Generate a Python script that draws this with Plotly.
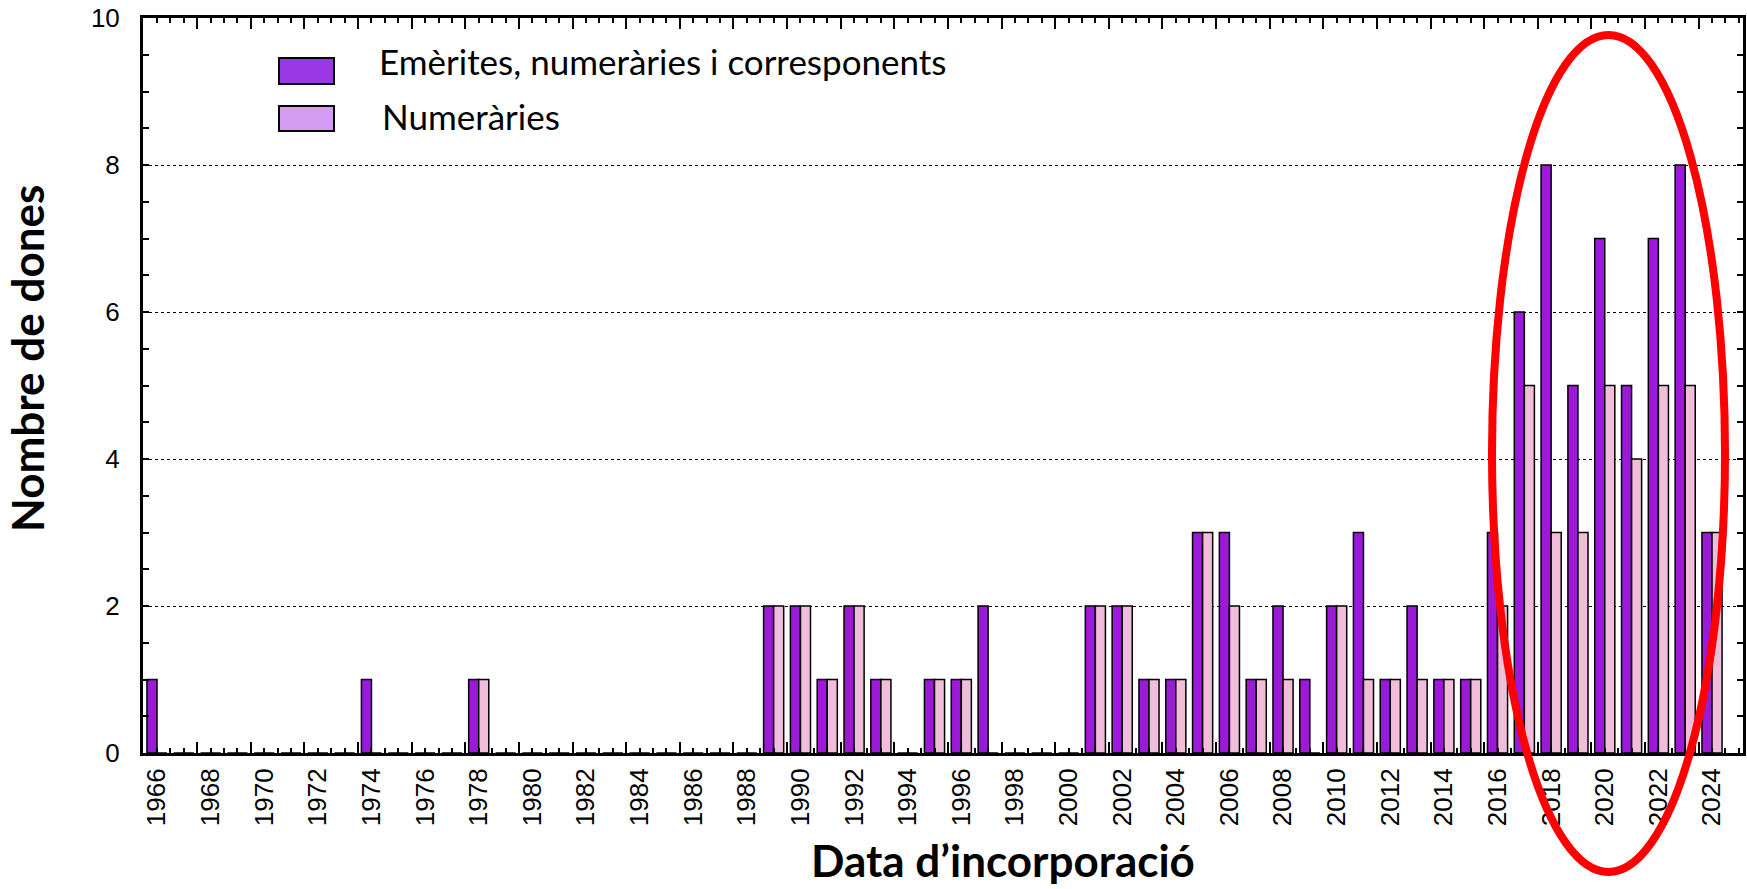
import plotly.graph_objects as go

years = list(range(1966, 2025))
# Emèrites, numeràries i correspondents (purple)
emerites = {1966: 1, 1974: 1, 1978: 1, 1989: 2, 1990: 2, 1991: 1, 1992: 2, 1993: 1,
            1995: 1, 1996: 1, 1997: 2, 2001: 2, 2002: 2, 2003: 1, 2004: 1, 2005: 3,
            2006: 3, 2007: 1, 2008: 2, 2009: 1, 2010: 2, 2011: 3, 2012: 1, 2013: 2,
            2014: 1, 2015: 1, 2016: 3, 2017: 6, 2018: 8, 2019: 5, 2020: 7, 2021: 5,
            2022: 7, 2023: 8, 2024: 3}
# Numeràries (pink)
numeraries = {1978: 1, 1989: 2, 1990: 2, 1991: 1, 1992: 2, 1993: 1, 1995: 1, 1996: 1,
              2001: 2, 2002: 2, 2003: 1, 2004: 1, 2005: 3, 2006: 2, 2007: 1, 2008: 1,
              2010: 2, 2011: 1, 2012: 1, 2013: 1, 2014: 1, 2015: 1, 2016: 2, 2017: 5,
              2018: 3, 2019: 3, 2020: 5, 2021: 4, 2022: 5, 2023: 5, 2024: 3}
emerites_vals = [emerites.get(y, 0) for y in years]
numeraries_vals = [numeraries.get(y, 0) for y in years]
tick_years = list(range(1966, 2025, 2))
tick_labels = [str(y) for y in tick_years]

W, H = 1747, 889
L, R, T, B = 143, 4, 18, 136
PW, PH = W - L - R, H - T - B

def px(x):
    return (x - L) / PW

def py(y):
    return (H - B - y) / PH

PURPLE = "#9B19D7"
PINK = "#F0BEDA"

fig = go.Figure()
fig.add_trace(go.Bar(x=years, y=emerites_vals, name="Emèrites, numeràries i corresponents",
                     marker=dict(color=PURPLE, line=dict(color="black", width=1.5)),
                     showlegend=False))
fig.add_trace(go.Bar(x=years, y=numeraries_vals, name="Numeràries",
                     marker=dict(color=PINK, line=dict(color="black", width=1.5)),
                     showlegend=False))
fig.add_trace(go.Scatter(x=[], y=[], xaxis="x2", showlegend=False))

xr = [1965.478, 2025.156]
tickfont = dict(family="Liberation Sans, Arial", size=26, color="black")

fig.update_layout(
    width=W, height=H,
    margin=dict(l=L, r=R, t=T, b=B, autoexpand=False),
    paper_bgcolor="white", plot_bgcolor="white",
    barmode="group", bargap=0.25, bargroupgap=0,
    xaxis=dict(range=xr, tickmode="array", tickvals=tick_years, ticktext=tick_labels,
               tickangle=-90, ticks="", tickfont=tickfont, showgrid=False, zeroline=False,
               showline=True, linecolor="black", linewidth=3, mirror=True,
               ticklabelstandoff=2, automargin=False),
    xaxis2=dict(range=xr, overlaying="x", anchor="y", side="bottom", showticklabels=False,
                tickmode="linear", tick0=1965.5, dtick=2, ticks="inside", ticklen=11,
                tickwidth=2, tickcolor="black", showgrid=False, zeroline=False,
                showline=True, linecolor="black", linewidth=3, mirror="ticks",
                automargin=False,
                minor=dict(ticks="inside", tick0=1965.5, dtick=0.5, ticklen=5,
                           tickwidth=1.5, tickcolor="black", showgrid=False)),
    yaxis=dict(range=[0, 10], tickmode="linear", tick0=0, dtick=2, ticks="inside",
               ticklen=6, tickwidth=2, tickcolor="black", tickfont=tickfont,
               showgrid=True, gridcolor="black", gridwidth=1, griddash="dot",
               zeroline=False, showline=True, linecolor="black", linewidth=3,
               mirror="ticks", ticklabelstandoff=15, automargin=False,
               minor=dict(ticks="inside", dtick=0.5, ticklen=6, tickwidth=1.5,
                          tickcolor="black", showgrid=False)),
    font=dict(family="Liberation Sans, Arial", color="black"),
)

# legend (manual, to reproduce the wide swatches)
legend_items = [("Emèrites, numeràries i corresponents", "#9B38E6", 58, 84, 377, 61),
                ("Numeràries", "#D49CF2", 106, 131, 380, 116)]
shapes = []
annotations = []
for text, col, y0, y1, tx, ty in legend_items:
    shapes.append(dict(type="rect", xref="paper", yref="paper",
                       x0=px(279), x1=px(334), y0=py(y1), y1=py(y0),
                       fillcolor=col, line=dict(color="black", width=2), layer="above"))
    annotations.append(dict(text=text, xref="paper", yref="paper", x=px(tx), y=py(ty),
                            xanchor="left", yanchor="middle", showarrow=False,
                            font=dict(family="Lato", size=35, color="black")))

# red ellipse highlighting recent years
shapes.append(dict(type="circle", xref="paper", yref="paper",
                   x0=px(1492), x1=px(1725), y0=py(872), y1=py(35),
                   line=dict(color="#FF0000", width=8), layer="above"))

annotations.append(dict(text="<b>Data d’incorporació</b>", xref="paper", yref="paper",
                        x=px(1003), y=py(860), xanchor="center", yanchor="middle",
                        showarrow=False, font=dict(family="Lato", size=44, color="black")))
annotations.append(dict(text="<b>Nombre de dones</b>", xref="paper", yref="paper",
                        x=px(27), y=py(359), xanchor="center", yanchor="middle",
                        textangle=-90, showarrow=False,
                        font=dict(family="Lato", size=44, color="black")))

fig.update_layout(shapes=shapes, annotations=annotations)
fig.write_html("out.html", config={"displayModeBar": False},
               post_script="document.body.style.margin='0';document.body.style.overflow='hidden';")
